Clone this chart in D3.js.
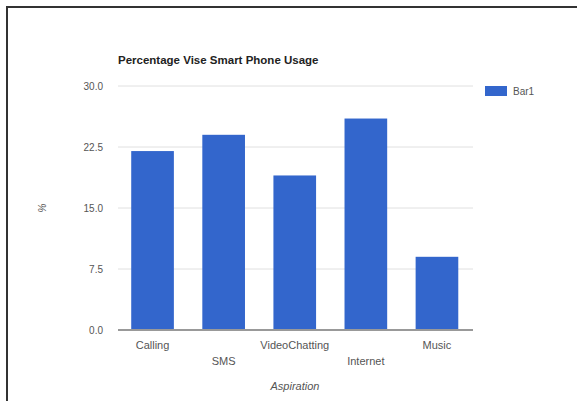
<!DOCTYPE html>
<html>
<head>
<meta charset="utf-8">
<script src="https://cdn.jsdelivr.net/npm/d3@7"></script>
<style>
  html, body { margin: 0; padding: 0; background: #fff; }
  text { font-family: Arial, "Liberation Sans", sans-serif; }
</style>
</head>
<body>
<div id="chart"></div>
<script>
// Chart data.
const categories = ["Calling", "SMS", "VideoChatting", "Internet", "Music"];
const values = [22, 24, 19, 26, 9];
const yTicks = [0, 7.5, 15, 22.5, 30];
const seriesName = "Bar1";

const width = 577;
const height = 401;
const barColor = "#3366cc";
const textColor = "#555";

const svg = d3.select("#chart")
  .append("svg")
  .attr("width", width)
  .attr("height", height);

// Frame (top and left edges only are visible).
svg.append("path")
  .attr("d", `M7,${height} L7,7 L${width},7`)
  .attr("fill", "none")
  .attr("stroke", "#333")
  .attr("stroke-width", 2);

// Scales.
const x = d3.scaleBand()
  .domain(categories)
  .range([117, 472.5])
  .paddingInner(0.4)
  .paddingOuter(0.2);

const y = d3.scaleLinear()
  .domain([0, 30])
  .range([330, 86]);

// Gridlines.
svg.append("g")
  .selectAll("line")
  .data(yTicks.filter(d => d !== 0))
  .join("line")
  .attr("x1", 118)
  .attr("x2", 473)
  .attr("y1", d => y(d))
  .attr("y2", d => y(d))
  .attr("stroke", "#e0e0e0")
  .attr("stroke-width", 1);

// Y tick labels.
svg.append("g")
  .selectAll("text")
  .data(yTicks)
  .join("text")
  .attr("x", 103)
  .attr("y", d => y(d) + 3.5)
  .attr("text-anchor", "end")
  .attr("font-size", 10)
  .attr("fill", textColor)
  .text(d => d3.format(".1f")(d));

// Bars.
svg.append("g")
  .selectAll("rect")
  .data(values)
  .join("rect")
  .attr("x", (d, i) => x(categories[i]))
  .attr("y", d => y(d))
  .attr("width", x.bandwidth())
  .attr("height", d => y(0) - y(d))
  .attr("fill", barColor);

// Baseline.
svg.append("line")
  .attr("x1", 118)
  .attr("x2", 473)
  .attr("y1", y(0))
  .attr("y2", y(0))
  .attr("stroke", "#999")
  .attr("stroke-width", 2);

// X labels, staggered on two rows.
svg.append("g")
  .selectAll("text")
  .data(categories)
  .join("text")
  .attr("x", d => x(d) + x.bandwidth() / 2)
  .attr("y", (d, i) => (i % 2 === 0 ? 349 : 365))
  .attr("text-anchor", "middle")
  .attr("font-size", 11)
  .attr("fill", textColor)
  .text(d => d);

// Axis titles.
svg.append("text")
  .attr("x", 295)
  .attr("y", 390)
  .attr("text-anchor", "middle")
  .attr("font-size", 11)
  .attr("font-style", "italic")
  .attr("fill", textColor)
  .text("Aspiration");

svg.append("text")
  .attr("transform", `translate(46,208) rotate(-90)`)
  .attr("text-anchor", "middle")
  .attr("font-size", 10)
  .attr("font-style", "italic")
  .attr("fill", textColor)
  .text("%");

// Title.
svg.append("text")
  .attr("x", 118)
  .attr("y", 64)
  .attr("font-size", 11.5)
  .attr("font-weight", "bold")
  .attr("fill", "#222")
  .text("Percentage Vise Smart Phone Usage");

// Legend.
const legend = svg.append("g").attr("transform", "translate(485,86)");
legend.append("rect")
  .attr("width", 22)
  .attr("height", 10)
  .attr("fill", barColor);
legend.append("text")
  .attr("x", 28)
  .attr("y", 9)
  .attr("font-size", 10)
  .attr("fill", textColor)
  .text(seriesName);
</script>
</body>
</html>
